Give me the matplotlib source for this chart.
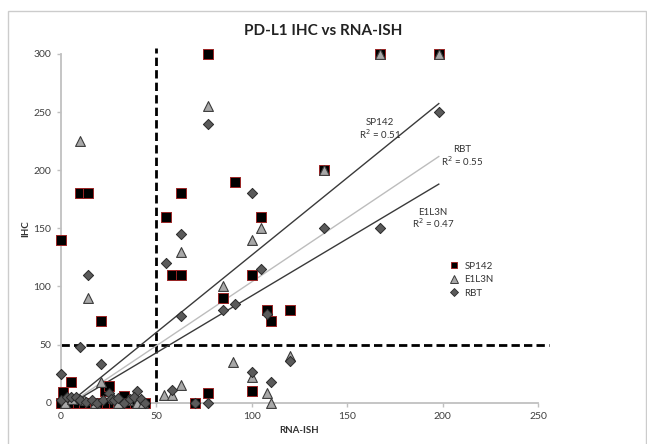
import matplotlib

matplotlib.use("Agg")
import matplotlib.pyplot as plt
from matplotlib.lines import Line2D
from matplotlib.patches import Rectangle

plt.rcParams["font.family"] = ["Lato", "DejaVu Sans"]

# ---------------------------------------------------------------------------
# data
# ---------------------------------------------------------------------------
sp142_x = [0, 10, 14, 21, 77, 91, 55, 63, 105, 138, 167, 198, 58, 63, 100,
           85, 108, 110, 120, 100, 77, 70, 1, 5, 23, 25, 33,
           0, 3, 6, 9, 12, 15, 18, 20, 24, 28, 30, 36, 39, 42, 44]
sp142_y = [140, 180, 180, 70, 300, 190, 160, 180, 160, 200, 300, 300, 110, 110, 110,
           90, 80, 70, 80, 10, 8, 0, 9, 18, 10, 14, 6,
           0, 0, 0, 0, 0, 0, 0, 0, 0, 0, 0, 0, 0, 0, 0]

e1l3n_x = [10, 14, 77, 63, 100, 105, 138, 167, 198, 85, 90, 120, 100, 108, 110,
           54, 58, 63, 21, 40, 43, 2, 6, 12, 18, 27, 30, 35]
e1l3n_y = [225, 90, 255, 130, 140, 150, 200, 300, 300, 100, 35, 40, 22, 8, 0,
           7, 7, 15, 18, 0, 0, 0, 3, 2, 0, 4, 0, 2]

rbt_x = [77, 198, 100, 63, 138, 167, 14, 55, 105, 63, 85, 91, 108, 120, 100, 110,
         58, 70, 77, 10, 21, 0, 40, 25,
         0, 3, 5, 8, 10, 13, 16, 19, 22, 26, 28, 30, 33, 36, 38, 42, 44]
rbt_y = [240, 250, 180, 145, 150, 150, 110, 120, 115, 75, 80, 85, 76, 36, 26, 18,
         11, 0, 0, 48, 33, 25, 10, 8,
         2, 5, 5, 5, 2, 1, 2, 0, 2, 3, 2, 4, 0, 3, 5, 3, 0]

# linear trendlines: (slope, intercept, r2)
trend_sp142 = (1.33, -6.0, 0.51)
trend_rbt = (1.10, -6.0, 0.55)
trend_e1l3n = (0.98, -6.0, 0.47)
trend_x = [0, 198]

cutoff_ish = 50
cutoff_ihc = 50

# ---------------------------------------------------------------------------
# figure
# ---------------------------------------------------------------------------
W, H = 647, 444
fig = plt.figure(figsize=(W / 100, H / 100), dpi=100)

# outer frame of the pasted chart
fig.patches.append(Rectangle((8 / W, -0.01), (W - 9) / W, 1 - 11 / H + 0.01,
                             transform=fig.transFigure, fill=False,
                             edgecolor="#cccccc", linewidth=1.0))

x0, x1, y0, y1 = 61, 538, 402.7, 54
ax = fig.add_axes([x0 / W, 1 - y0 / H, (x1 - x0) / W, (y0 - y1) / H])
ax.set_xlim(0, 250)
ax.set_ylim(0, 300)

# dashed cut-off lines
ax.plot([cutoff_ish, cutoff_ish], [0, 305], ls=(0, (3, 1.5)), color="black",
        lw=2.0, clip_on=False, zorder=2)
ax.plot([0, 256], [cutoff_ihc, cutoff_ihc], ls=(0, (3, 1.5)), color="black",
        lw=2.0, clip_on=False, zorder=2)

# trendlines
for (m, b, _), col in [(trend_sp142, "#3a3a3a"), (trend_rbt, "#bdbdbd"),
                       (trend_e1l3n, "#3a3a3a")]:
    ax.plot(trend_x, [m * v + b for v in trend_x], color=col, lw=1.0, zorder=3)

sq = dict(marker="s", s=42, facecolor="black", edgecolor="#9b2525",
          linewidths=0.7, clip_on=False, zorder=4)
tri = dict(marker="^", s=50, facecolor="#a8a8a8", edgecolor="#3c3c3c",
           linewidths=0.8, clip_on=False, zorder=5)
dia = dict(marker="D", s=27, facecolor="#5a5a5a", edgecolor="#2a2a2a",
           linewidths=0.7, clip_on=False, zorder=6)
ax.scatter(sp142_x, sp142_y, **sq)
ax.scatter(e1l3n_x, e1l3n_y, **tri)
ax.scatter(rbt_x, rbt_y, **dia)

# annotations
txt = dict(ha="center", va="center", fontsize=7, color="#333333")
ax.text(167, 241, "SP142", **txt)
ax.text(167, 231.5, f"R$^2$ = {trend_sp142[2]:.2f}", **txt)
ax.text(210, 218, "RBT", **txt)
ax.text(210, 208, f"R$^2$ = {trend_rbt[2]:.2f}", **txt)
ax.text(195, 164, "E1L3N", **txt)
ax.text(195, 154.5, f"R$^2$ = {trend_e1l3n[2]:.2f}", **txt)

# axes styling
for side in ("top", "right"):
    ax.spines[side].set_visible(False)
for side in ("left", "bottom"):
    ax.spines[side].set_color("#c0c0c0")
    ax.spines[side].set_linewidth(1.3)
ax.set_xticks([0, 50, 100, 150, 200, 250])
ax.set_yticks([0, 50, 100, 150, 200, 250, 300])
ax.tick_params(colors="#c0c0c0", labelcolor="#404040", labelsize=7.5,
               length=3, width=1.0, pad=4)
ax.set_xlabel("RNA-ISH", fontsize=7, fontweight="bold", color="#333333",
              labelpad=3)
ax.set_ylabel("IHC", fontsize=7, fontweight="bold", color="#333333",
              labelpad=2)

fig.text(323.5 / W, 1 - 31 / H, "PD-L1 IHC vs RNA-ISH", ha="center",
         va="center", fontsize=11, fontweight="bold", color="#222222")

handles = [
    Line2D([], [], ls="none", marker="s", markersize=5, markerfacecolor="black",
           markeredgecolor="#9b2525", markeredgewidth=0.7, label="SP142"),
    Line2D([], [], ls="none", marker="^", markersize=6, markerfacecolor="#a8a8a8",
           markeredgecolor="#3c3c3c", markeredgewidth=0.7, label="E1L3N"),
    Line2D([], [], ls="none", marker="D", markersize=4.5, markerfacecolor="#5a5a5a",
           markeredgecolor="#2a2a2a", markeredgewidth=0.6, label="RBT"),
]
fig.legend(handles=handles, loc="upper left",
           bbox_to_anchor=(444 / W, 1 - 257 / H), frameon=False, fontsize=7,
           handlelength=1.0, handletextpad=0.6, labelspacing=0.45,
           borderpad=0, labelcolor="#333333")

fig.savefig("out.png", dpi=100)
